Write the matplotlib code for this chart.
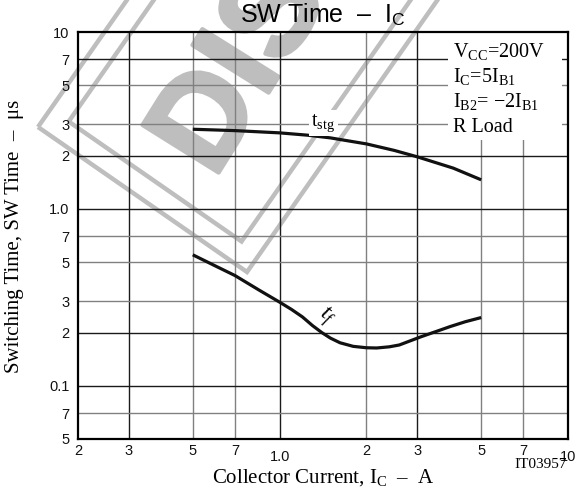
import matplotlib
matplotlib.use('Agg')
import matplotlib.pyplot as plt
from matplotlib.patches import Polygon, Rectangle
import matplotlib.patheffects as pe
import numpy as np

plt.rcParams['mathtext.fontset'] = 'custom'
plt.rcParams['mathtext.rm'] = 'Liberation Serif'
plt.rcParams['mathtext.it'] = 'Liberation Serif:italic'
plt.rcParams['mathtext.sf'] = 'Liberation Sans'

# ---------------- data ----------------
tstg_x = [0.5, 0.7, 1.0, 1.25, 1.5, 2.0, 2.5, 3.0, 4.0, 5.0]
tstg_y = [2.82, 2.77, 2.69, 2.61, 2.52, 2.33, 2.14, 1.97, 1.70, 1.46]

tf_x = [0.5, 0.6, 0.7, 0.85, 1.0, 1.1, 1.2, 1.3, 1.4, 1.5, 1.62, 1.8, 2.0, 2.17, 2.4,
        2.6, 3.1, 3.5, 3.9, 4.4, 5.0]
tf_y = [0.55, 0.475, 0.42, 0.347, 0.297, 0.27, 0.245, 0.219, 0.200, 0.186, 0.175, 0.167,
        0.164, 0.1635, 0.166, 0.170, 0.1895, 0.203, 0.216, 0.230, 0.243]

x_major = [1.0, 10.0]
x_major_labels = ['1.0', '10']
x_minor = [0.2, 0.3, 0.5, 0.7, 2, 3, 5, 7]
x_minor_labels = ['2', '3', '5', '7', '2', '3', '5', '7']
y_major = [0.1, 1.0, 10.0]
y_major_labels = ['0.1', '1.0', '10']
y_minor = [0.05, 0.07, 0.2, 0.3, 0.5, 0.7, 2, 3, 5, 7]
y_minor_labels = ['5', '7', '2', '3', '5', '7', '2', '3', '5', '7']

grid_x_dark = [0.3, 1.0, 3.0]
grid_x_gray = [0.5, 0.7, 2.0, 5.0, 7.0]
grid_y_dark = [0.1, 0.2, 1.0, 2.0, 7.0]
grid_y_gray = [0.07, 0.3, 0.5, 0.7, 3.0, 5.0]

cond_lines = [r'V$_{\rm CC}$=200V', r'I$_{\rm C}$=5I$_{\rm B1}$',
              'I$_{\\rm B2}$= \u22122I$_{\\rm B1}$', 'R Load']

W, H = 578, 491
fig = plt.figure(figsize=(W / 100, H / 100), dpi=100)

def px(x, y):
    return (x / W, 1 - y / H)

# ---------------- watermark ----------------
wm = '#bebebe'
ang = np.deg2rad(55)
u = np.array([np.cos(ang), -np.sin(ang)])
L = np.array([38.0, 127.0]); B = np.array([247.0, 272.0])
e = (B - L) / np.linalg.norm(B - L)
d = 22.0
for (p, q) in [(L, B), (L + d * e + d * u, B - d * e + d * u)]:
    pts = [p, q, q + 600 * u, p + 600 * u]
    poly = Polygon([px(*pt) for pt in pts], closed=True, fill=False, ec=wm, lw=3.2,
                   transform=fig.transFigure, zorder=0.5)
    fig.add_artist(poly)
fig.text(*px(214, 180), 'DIS', rotation=58, rotation_mode='anchor', ha='left',
         va='baseline', fontsize=94, fontweight='bold', family='Liberation Sans',
         color=wm, zorder=0.5,
         path_effects=[pe.withStroke(linewidth=3, foreground=wm)])

# ---------------- axes ----------------
ax = fig.add_axes([78 / W, 1 - 439 / H, 490 / W, 407 / H])
ax.set_facecolor('none')
ax.set_zorder(1)
ax.set_xscale('log'); ax.set_yscale('log')
ax.set_xlim(0.2, 10); ax.set_ylim(0.05, 10)

for v in grid_x_dark:
    ax.axvline(v, color='#1a1a1a', lw=1.0, zorder=1)
for v in grid_x_gray:
    ax.axvline(v, color='#808080', lw=1.0, zorder=1)
for v in grid_y_dark:
    ax.axhline(v, color='#1a1a1a', lw=1.0, zorder=1)
for v in grid_y_gray:
    ax.axhline(v, color='#808080', lw=1.0, zorder=1)

ax.set_xticks(x_major, labels=x_major_labels)
ax.set_xticks(x_minor, labels=x_minor_labels, minor=True)
ax.set_yticks(y_major, labels=y_major_labels)
ax.set_yticks(y_minor, labels=y_minor_labels, minor=True)
ax.tick_params(axis='both', which='both', length=0, labelsize=10.5, colors='#111')
ax.tick_params(axis='x', which='minor', pad=3.5)
ax.tick_params(axis='x', which='major', pad=8)
ax.tick_params(axis='y', which='both', pad=6)
for lab in ax.get_xticklabels(which='both') + ax.get_yticklabels(which='both'):
    lab.set_family('Liberation Sans')
for s in ax.spines.values():
    s.set_linewidth(1.6)
    s.set_zorder(5)

ax.plot(tstg_x, tstg_y, color='#111', lw=2.3, zorder=3, solid_capstyle='butt',
        solid_joinstyle='round')
ax.plot(tf_x, tf_y, color='#111', lw=2.3, zorder=3, solid_capstyle='butt',
        solid_joinstyle='round')

ax.text(1.42, 3.06, r't$_{\rm stg}$', ha='center', va='center', fontsize=14.5,
        family='Liberation Serif', zorder=4,
        bbox=dict(fc='white', ec='none', pad=1.5))
ax.text(1.45, 0.245, r'$t_f$', ha='center', va='center', fontsize=17,
        rotation=-35, zorder=4)

ax.add_patch(Rectangle((0.755, 0.7346), 0.233, 0.262, transform=ax.transAxes,
                       fc='white', ec='none', zorder=2))
for txt, yb in zip(cond_lines, [0.9386, 0.8771, 0.8157, 0.7543]):
    ax.text(0.765, yb, txt, transform=ax.transAxes, ha='left', va='baseline',
            fontsize=14.5, family='Liberation Serif', zorder=4)

ax.set_title(r'SW Time  –  I$_{\mathsf{C}}$', fontsize=18, family='Liberation Sans', pad=6.7)
ax.set_xlabel(r'Collector Current, I$_{\rm C}$  –  A', fontsize=15, family='Liberation Serif')
ax.xaxis.set_label_coords(0.5, -0.068)
ax.xaxis.label.set_va('top')
ax.set_ylabel('Switching Time, SW Time  –  μs', fontsize=15, family='Liberation Serif')
ax.yaxis.label.set_va('center')
ax.yaxis.set_label_coords(-0.1286, 0.497)

ax.text(0.998, -0.072, 'IT03957', transform=ax.transAxes, ha='right', va='baseline',
        fontsize=11, family='Liberation Serif')

fig.savefig('out.png', dpi=100)
